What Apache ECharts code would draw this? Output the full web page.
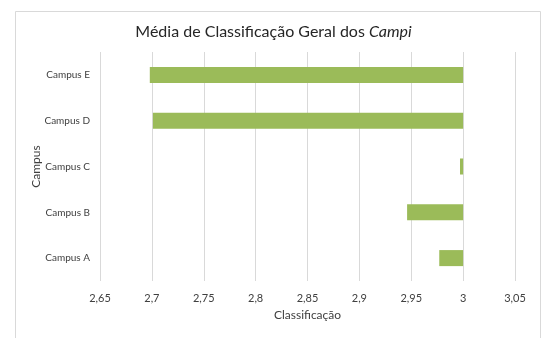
<!DOCTYPE html>
<html>
<head>
<meta charset="utf-8">
<script src="https://cdn.jsdelivr.net/npm/echarts@6/dist/echarts.min.js"></script>
<style>
html,body{margin:0;padding:0;background:#fff;}
#c{width:547px;height:338px;}
</style>
</head>
<body>
<div id="c"></div>
<script>
var categories = ['Campus A', 'Campus B', 'Campus C', 'Campus D', 'Campus E'];
var values = [2.977, 2.946, 2.997, 2.701, 2.698];
var baseline = 3;
var xTicks = [2.65, 2.7, 2.75, 2.8, 2.85, 2.9, 2.95, 3, 3.05];

var font = 'Lato, "Open Sans", sans-serif';
var chart = echarts.init(document.getElementById('c'), null, {renderer: 'canvas'});
var data = values.map(function (v, i) { return [v, i]; });

chart.setOption({
  animation: false,
  backgroundColor: '#fff',
  title: {
    text: 'Média de Classificação Geral dos {i|Campi}',
    left: 'center',
    top: 19,
    textStyle: {
      fontFamily: font, fontSize: 16, fontWeight: 'normal', color: '#262626',
      rich: { i: { fontFamily: font, fontSize: 16, fontStyle: 'italic', color: '#262626' } }
    }
  },
  graphic: [{
    type: 'rect', left: 13, top: 9, silent: true,
    shape: { width: 525, height: 340 },
    style: { fill: 'none', stroke: '#d9d9d9', lineWidth: 1 }
  }],
  grid: { left: 100, right: 32, top: 52, bottom: 57 },
  xAxis: {
    type: 'value', min: 2.65, max: 3.05, interval: 0.05,
    name: 'Classificação', nameLocation: 'middle', nameGap: 25,
    nameTextStyle: { fontFamily: font, fontSize: 12, color: '#404040' },
    axisLine: { show: false }, axisTick: { show: false },
    axisLabel: {
      fontFamily: font, fontSize: 11, color: '#404040', margin: 12,
      formatter: function (v) {
        var r = Math.round(v * 100) / 100;
        for (var k = 0; k < xTicks.length; k++) {
          if (Math.abs(xTicks[k] - r) < 1e-6) return String(xTicks[k]).replace('.', ',');
        }
        return String(r).replace('.', ',');
      }
    },
    splitLine: { show: true, lineStyle: { color: '#d9d9d9', width: 1 } }
  },
  yAxis: {
    type: 'category', data: categories,
    name: 'Campus', nameLocation: 'middle', nameGap: 58, nameRotate: 90,
    nameMoveOverlap: false,
    nameTextStyle: { fontFamily: font, fontSize: 12, color: '#404040' },
    axisLine: { show: false }, axisTick: { show: false },
    axisLabel: { fontFamily: font, fontSize: 10, color: '#404040', margin: 10 },
    splitLine: { show: false }
  },
  series: [{
    type: 'custom',
    data: data,
    encode: { x: 0, y: 1 },
    renderItem: function (params, api) {
      var v = api.value(0), idx = api.value(1);
      var p0 = api.coord([baseline, idx]);
      var p1 = api.coord([v, idx]);
      var band = api.size([0, 1])[1];
      var h = band * 0.35;
      var x = Math.min(p0[0], p1[0]);
      return {
        type: 'rect',
        shape: { x: x, y: p0[1] - h / 2, width: Math.abs(p0[0] - p1[0]), height: h },
        style: { fill: '#9bbb59' }
      };
    }
  }]
});
</script>
</body>
</html>
